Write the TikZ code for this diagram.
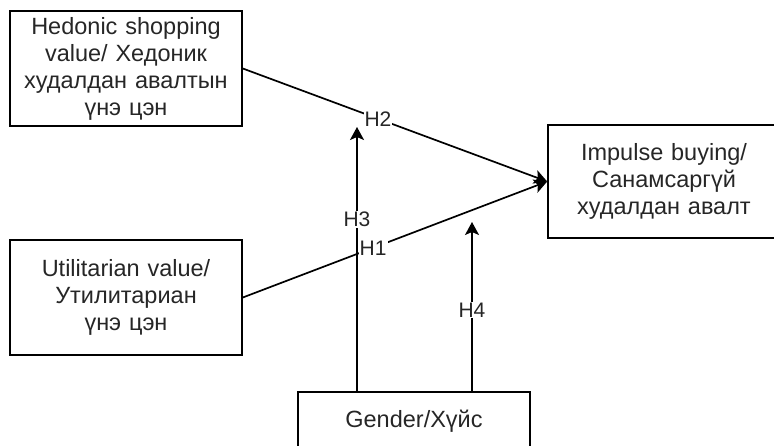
\documentclass[tikz,border=0pt]{standalone}
\usepackage{fontspec}
\setmainfont{Liberation Sans}
\usetikzlibrary{arrows.meta}

\tikzset{
	box/.style={draw, line width=1.6pt, minimum width=232pt, minimum height=115pt, align=center, text width=226pt, inner sep=0pt, font=\fontsize{23.5}{27}\selectfont, text=black!85},
	link/.style={line width=1.7pt, -{Stealth[length=13pt, width=14pt, inset=3pt]}},
	hlabel/.style={fill=white, inner sep=1pt, font=\fontsize{21}{24}\selectfont, text=black!85}
}

\begin{document}
\begin{tikzpicture}[x=1pt, y=-1pt]
		\useasboundingbox (0, 0) rectangle (774, 446);

		\node[box] (hedonic) at (126, 68.5) {Hedonic shopping\\value/ Хедоник\\худалдан авалтын\\үнэ цэн};
		\node[box] (utilitarian) at (126, 297.5) {Utilitarian value/\\Утилитариан\\үнэ цэн};
		\node[box, minimum height=113pt] (impulse) at (664, 181.5) {Impulse buying/\\Санамсаргүй\\худалдан авалт};
		\node[box, minimum height=58pt] (gender) at (414, 421) {Gender/Хүйс};

		% free ends of the moderator arrows
		\coordinate (h3top) at (357, 127);
		\coordinate (h4top) at (472, 222);

		\draw[link] (hedonic.east) -- node[hlabel, pos=0.444] {H2} (impulse.west);
		\draw[link] (utilitarian.east) -- node[hlabel, pos=0.428] {H1} (impulse.west);

		\draw[link] (gender.north -| h3top) -- node[hlabel, pos=0.65] {H3} (h3top);
		\draw[link] (gender.north -| h4top) -- node[hlabel, pos=0.48] {H4} (h4top);
	\end{tikzpicture}
\end{document}
